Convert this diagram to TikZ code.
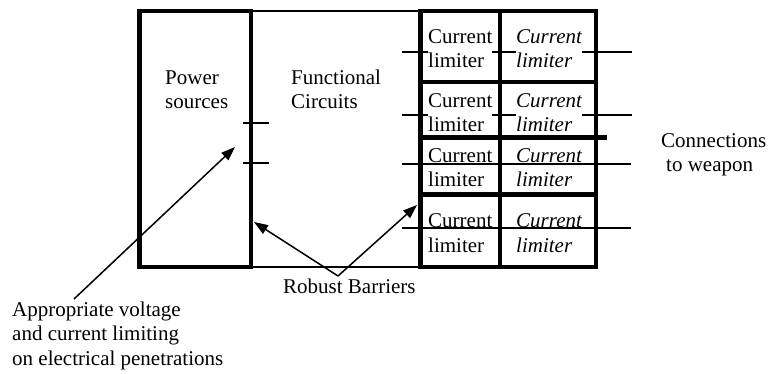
\documentclass[tikz,border=0pt]{standalone}
\usepackage{fontspec}
\setmainfont{Liberation Serif}
\usetikzlibrary{arrows.meta}

\newcommand{\diafont}{\fontsize{21}{24.5}\selectfont}

\tikzset{
  heavy/.style={line width=4.5pt},
  wire/.style={line width=1.3pt},
  block/.style={draw, heavy, inner sep=0pt, outer sep=0pt, anchor=north west},
  lbl/.style={anchor=base west, align=left, inner sep=0pt, font=\diafont},
  cell/.style={lbl, fill=white},
  arr/.style={line width=1.5pt, -{Triangle[length=14pt,width=10pt]}}
}

\begin{document}
\begin{tikzpicture}[x=1pt,y=-1pt]
\useasboundingbox (0,0) rectangle (768,374);

% wires hidden behind the limiter text
\foreach \y in {52,115}
  \draw[wire] (402,\y) -- (632,\y);

% limiter cells (base = last line)
\foreach \y/\n in {68/1,132/2,187/3,252/4} {
  \node[cell] (cl\n) at (428,\y) {Current\\limiter};
  \node[cell, font=\diafont\itshape] (cr\n) at (516,\y) {Current\\limiter};
}

% wires running under the lower cells
\foreach \y in {164,228}
  \draw[wire] (402,\y) -- (631,\y);

% blocks
\node[block, minimum width=111.5pt, minimum height=256pt] (power) at (139.5,11) {};
\node[block, minimum width=175.5pt, minimum height=256pt] (lim) at (420.5,11) {};
\draw[wire] (power.north east) -- (lim.north west);
\draw[wire] (power.south east) -- (lim.south west);

% cell dividers
\draw[heavy] (500,11) -- (500,267);
\draw[heavy] (420,82) -- (596,82);
\draw[heavy] (420,137.5) -- (607,137.5);
\draw[heavy] (420,194.5) -- (596,194.5);

% penetrations through the power block
\draw[wire] (243,123) -- (269,123);
\draw[wire] (243,163) -- (269,163);

% labels
\node[lbl] (ps) at (165,109) {Power\\sources};
\node[lbl] (fc) at (291,109) {Functional\\Circuits};
\node[lbl] (conn) at (661,172) {Connections\\\hspace*{5pt}to weapon};
\node[lbl] (rb) at (283,293) {Robust Barriers};
\node[lbl] (appr) at (12,365) {Appropriate voltage\\and current limiting\\on electrical penetrations};

% pointers
\coordinate (apprtip) at (74,299);
\coordinate (vin) at (235,147);
\coordinate (rbv) at (338,276);
\coordinate (barL) at (254,222);
\coordinate (barR) at (417,205);
\draw[arr] (apprtip) -- (vin);
\draw[arr] (rbv) -- (barL);
\draw[arr] (rbv) -- (barR);
\end{tikzpicture}
\end{document}
